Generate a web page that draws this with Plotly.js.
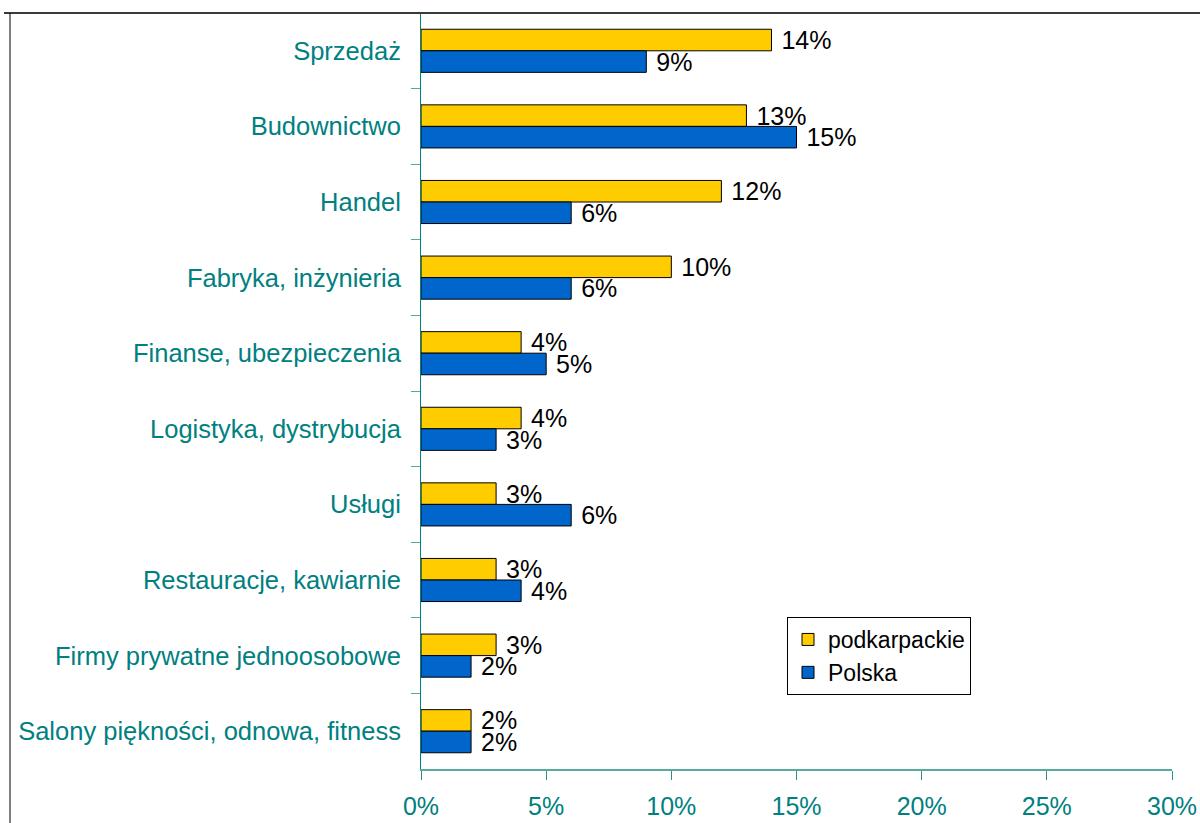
<!DOCTYPE html>
<html>
<head>
<meta charset="utf-8">
<script src="https://cdn.plot.ly/plotly-3.0.1.min.js"></script>
<style>html,body{margin:0;padding:0;background:#fff;}#chart{width:1200px;height:823px;}</style>
</head>
<body>
<div id="chart"></div>
<script>
const categories = ["Sprzedaż","Budownictwo","Handel","Fabryka, inżynieria","Finanse, ubezpieczenia","Logistyka, dystrybucja","Usługi","Restauracje, kawiarnie","Firmy prywatne jednoosobowe","Salony piękności, odnowa, fitness"];
const podkarpackie = [14,13,12,10,4,4,3,3,3,2];
const polska = [9,15,6,6,5,3,6,4,2,2];
const xTicks = [0,5,10,15,20,25,30];
const seriesNames = ["podkarpackie","Polska"];

const W = 1200, H = 823;
const mL = 421, mR = 28, mT = 13, mB = 54;
const pw = W - mL - mR, ph = H - mT - mB;
const px2x = p => (p - mL) / pw;
const px2y = p => (H - mB - p) / ph;

const font = "Arial, 'Liberation Sans', sans-serif";
function mk(name, vals, color) {
  return {
    type: 'bar', orientation: 'h', name: name,
    x: vals, y: categories,
    marker: {color: color, line: {color: '#000', width: 1}},
    text: vals.map(v => '\u00a0' + v + '%'), textposition: 'outside',
    textfont: {family: font, size: 25, color: '#000'},
    constraintext: 'none', cliponaxis: false,
    hoverinfo: 'skip'
  };
}
const data = [mk(seriesNames[0], podkarpackie, '#FFCC00'), mk(seriesNames[1], polska, '#0066CC')];

const layout = {
  width: W, height: H,
  margin: {l: mL, r: mR, t: mT, b: mB, pad: 0},
  paper_bgcolor: '#fff', plot_bgcolor: '#fff',
  barmode: 'group', bargap: 0.43, bargroupgap: 0,
  showlegend: true,
  legend: {x: px2x(787), y: px2y(617), xanchor: 'left', yanchor: 'top',
    bordercolor: '#000', borderwidth: 1, bgcolor: '#fff',
    font: {family: font, size: 23, color: '#000'}, tracegroupgap: 0,
    itemwidth: 30},
  xaxis: {range: [0, 30], tickvals: xTicks, ticktext: xTicks.map(v => v + '%'),
    showgrid: false, zeroline: false, showline: true, linecolor: '#5aa9a0', linewidth: 2,
    ticks: 'outside', ticklen: 9, tickcolor: '#2f8f88', tickwidth: 1,
    ticklabelstandoff: 5,
    tickfont: {family: font, size: 25, color: '#008080'}, fixedrange: true},
  yaxis: {autorange: 'reversed', type: 'category',
    showgrid: false, zeroline: false, showline: true, linecolor: '#008080', linewidth: 1,
    ticks: 'outside', tickson: 'boundaries', ticklen: 9, tickcolor: '#5aa9a0', tickwidth: 1,
    ticklabelstandoff: 14,
    tickfont: {family: font, size: 25.5, color: '#008080'}, fixedrange: true},
  shapes: [
    {type: 'line', xref: 'paper', yref: 'paper', x0: px2x(4), x1: px2x(1200), y0: px2y(13), y1: px2y(13), line: {color: '#3a3a3a', width: 2}},
    {type: 'line', xref: 'paper', yref: 'paper', x0: px2x(10), x1: px2x(10), y0: px2y(13), y1: px2y(823), line: {color: '#000', width: 1}}
  ]
};
Plotly.newPlot('chart', data, layout, {displayModeBar: false, staticPlot: true});
</script>
</body>
</html>
